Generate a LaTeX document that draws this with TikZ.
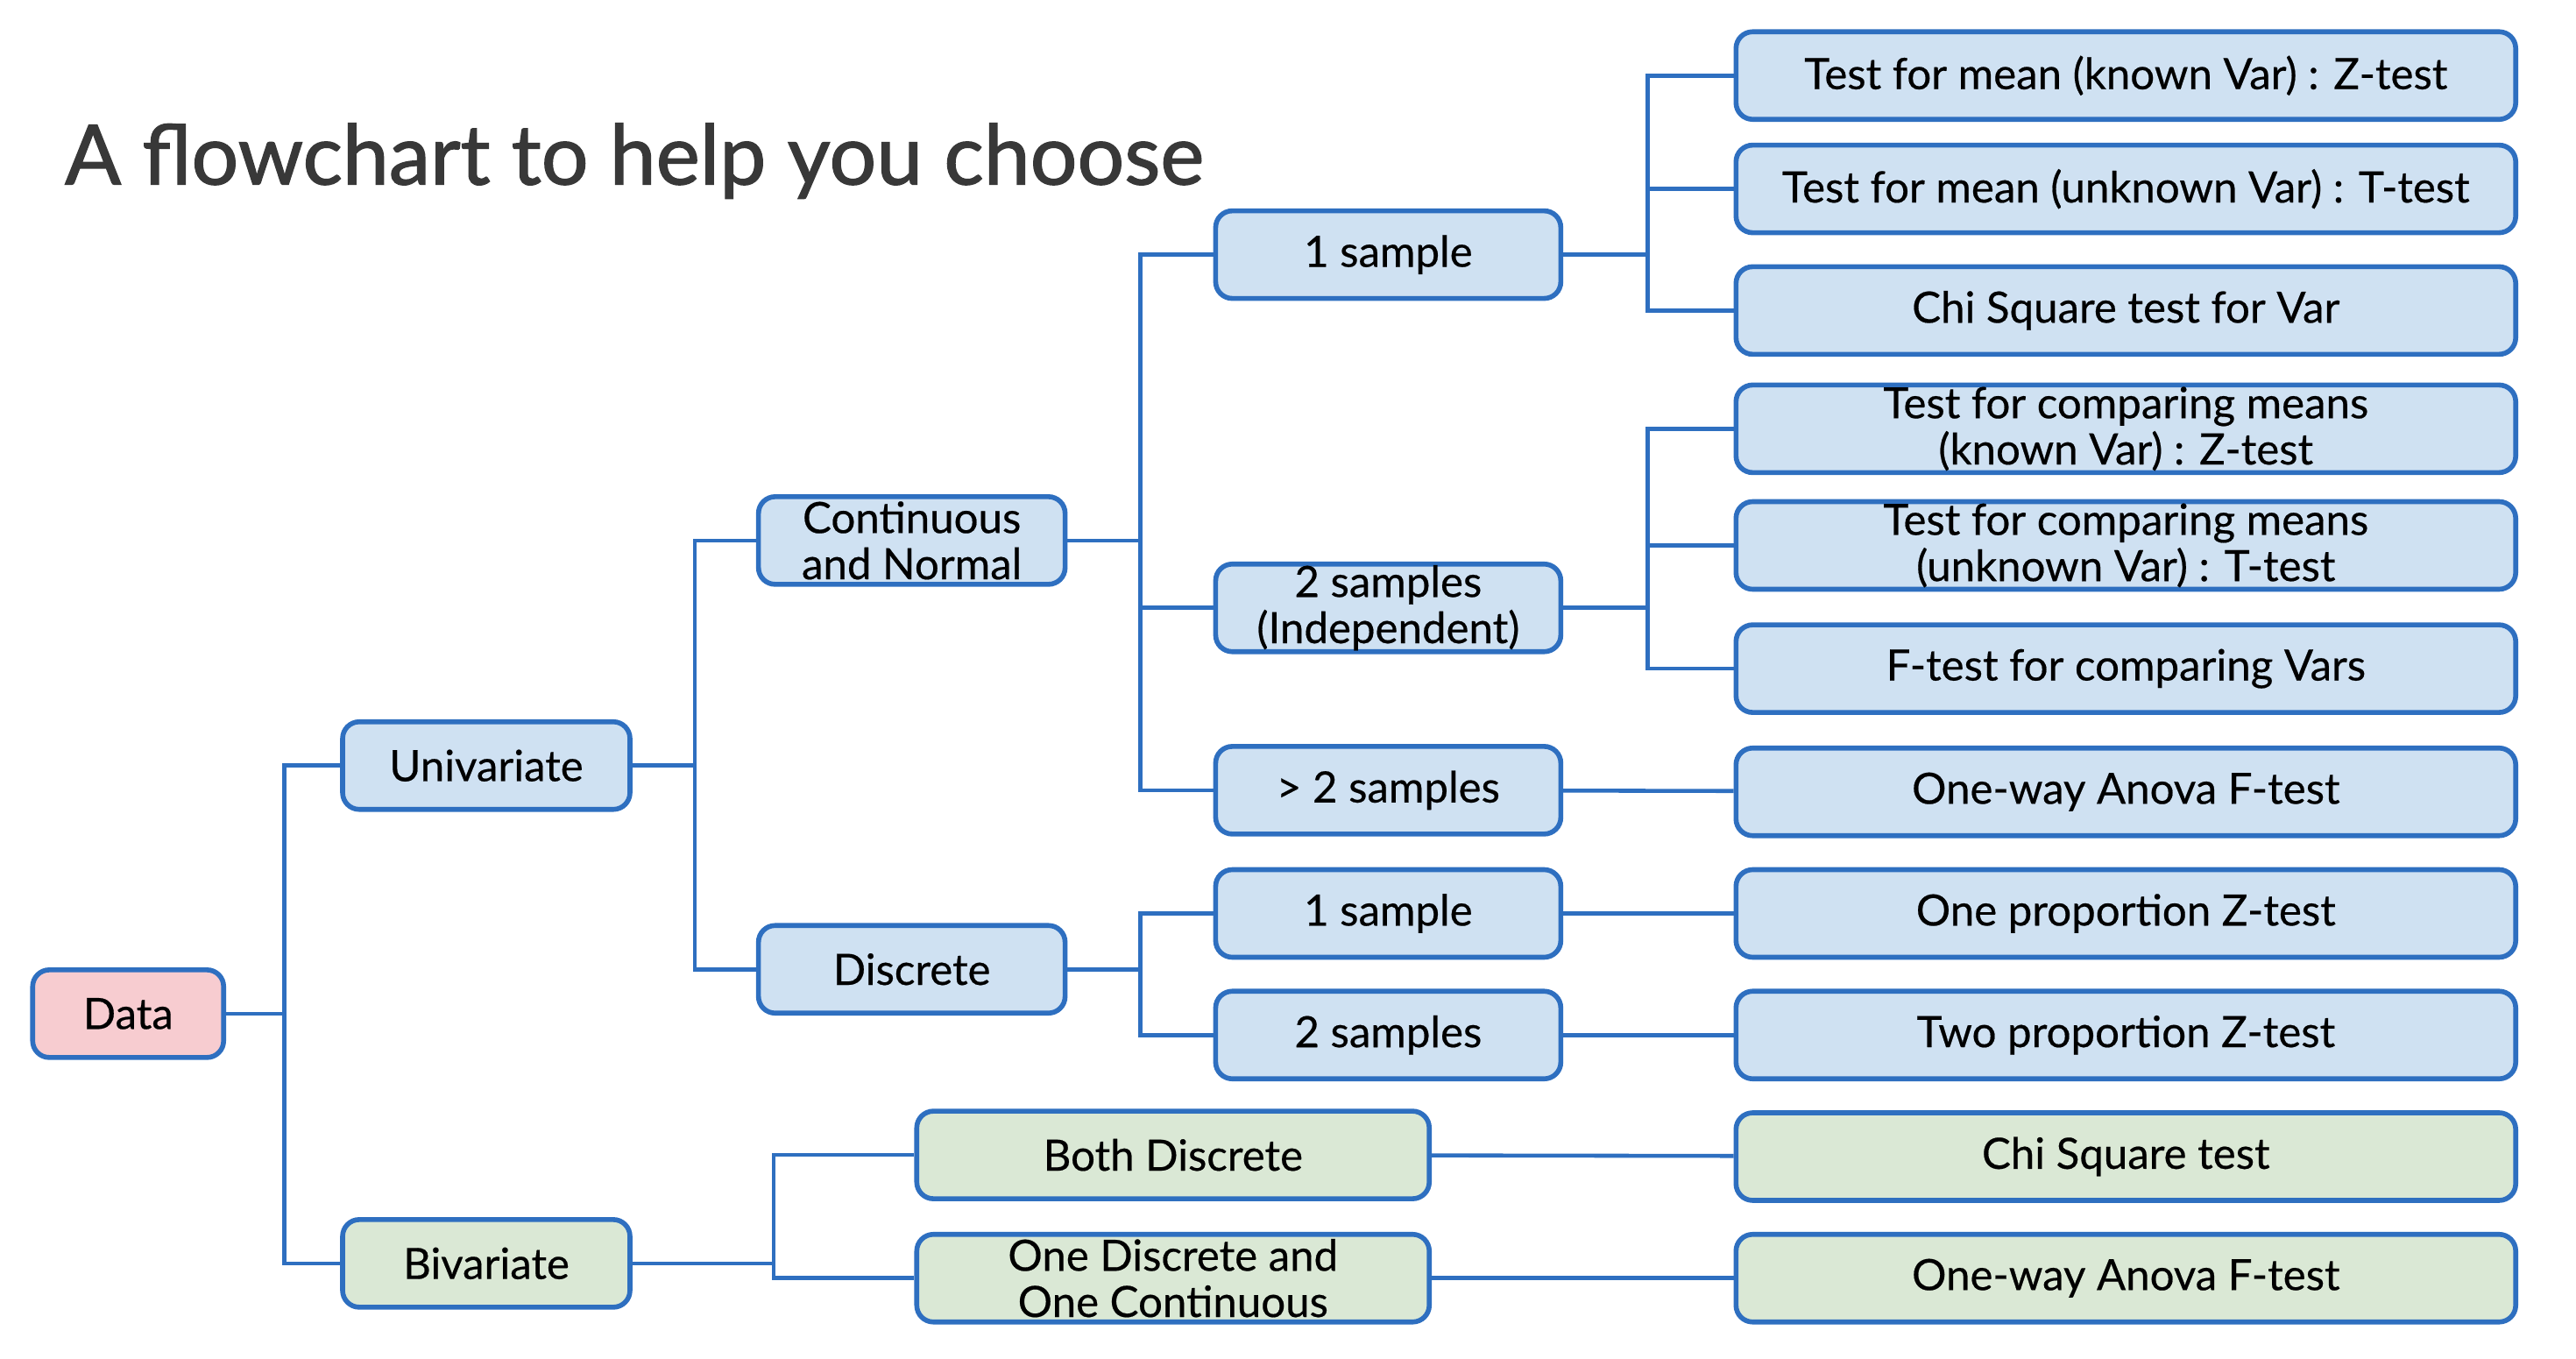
\documentclass[tikz,border=0pt]{standalone}
\usepackage{fontspec}
\setmainfont{Lato}[FakeBold=0.4]
\newfontfamily\titlefont{Lato}[FakeBold=1.4]
\usepackage{tikz}
\pgfdeclarelayer{bg}
\pgfsetlayers{bg,main}
\definecolor{lineblue}{HTML}{2E6FC0}
\definecolor{boxblue}{HTML}{CFE1F2}
\definecolor{boxpink}{HTML}{F7CCD0}
\definecolor{boxgreen}{HTML}{DAE8D5}
\definecolor{titlegray}{HTML}{383838}
\tikzset{
    every node/.style={rectangle, rounded corners=0.19cm, draw=lineblue, line width=1.6pt,
        fill=boxblue, align=center, inner xsep=2pt, inner ysep=0pt, minimum height=1cm,
        font=\fontsize{14}{15}\selectfont}
}
\tikzset{link/.style={draw=lineblue, line width=1.3pt}}

\begin{document}
\begin{tikzpicture}[x=0.01875cm, y=-0.01875cm]
        \useasboundingbox (0,0) rectangle (1568,827);
        \node (title) [draw=none, fill=none, inner sep=0pt, anchor=west, text=titlegray,
                font=\titlefont\fontsize{27}{32}\selectfont] at (38,98) {A flowchart to help you choose};
        \node (data) [fill=boxpink, minimum width=2.18cm] at (78,617) {Data};
        \node (uni) [minimum width=3.28cm] at (296,466) {Univariate};
        \node (biv) [fill=boxgreen, minimum width=3.28cm] at (296,769) {Bivariate};
        \node (cont) [minimum width=3.5cm] at (555,329) {Continuous\\and Normal};
        \node (disc) [minimum width=3.5cm] at (555,590) {Discrete};
        \node (c1) [minimum width=3.94cm] at (845,155) {1 sample};
        \node (c2) [minimum width=3.94cm] at (845,370) {2 samples\\(Independent)};
        \node (c3) [minimum width=3.94cm] at (845,481) {> 2 samples};
        \node (d1) [minimum width=3.94cm] at (845,556) {1 sample};
        \node (d2) [minimum width=3.94cm] at (845,630) {2 samples};
        \node (b1) [fill=boxgreen, minimum width=5.85cm] at (714,703) {Both Discrete};
        \node (b2) [fill=boxgreen, minimum width=5.85cm] at (714,778) {One Discrete and\\One Continuous};
        \node (t1) [minimum width=8.9cm] at (1294,46) {Test for mean (known Var) : Z-test};
        \node (t2) [minimum width=8.9cm] at (1294,115) {Test for mean (unknown Var) : T-test};
        \node (t3) [minimum width=8.9cm] at (1294,189) {Chi Square test for Var};
        \node (t4) [minimum width=8.9cm] at (1294,261) {Test for comparing means\\(known Var) : Z-test};
        \node (t5) [minimum width=8.9cm] at (1294,332) {Test for comparing means\\(unknown Var) : T-test};
        \node (t6) [minimum width=8.9cm] at (1294,407) {F-test for comparing Vars};
        \node (t7) [minimum width=8.9cm] at (1294,482) {One-way Anova F-test};
        \node (t8) [minimum width=8.9cm] at (1294,556) {One proportion Z-test};
        \node (t9) [minimum width=8.9cm] at (1294,630) {Two proportion Z-test};
        \node (t10) [fill=boxgreen, minimum width=8.9cm] at (1294,704) {Chi Square test};
        \node (t11) [fill=boxgreen, minimum width=8.9cm] at (1294,778) {One-way Anova F-test};
        \coordinate (j0) at (173,617);
        \coordinate (j1) at (423,466);
        \coordinate (j2) at (694,329);
        \coordinate (j3) at (694,590);
        \coordinate (j4) at (471,769);
        \coordinate (j5) at (1003,155);
        \coordinate (j6) at (1003,370);
        \begin{pgfonlayer}{bg}
                \draw [link] (data) -- (j0);
                \draw [link] (j0) |- (uni.west);
                \draw [link] (j0) |- (biv.west);
                \draw [link] (uni) -- (j1);
                \draw [link] (j1) |- (cont.west);
                \draw [link] (j1) |- (disc.west);
                \draw [link] (cont) -- (j2);
                \draw [link] (j2) |- (c1.west);
                \draw [link] (j2) |- (c2.west);
                \draw [link] (j2) |- (c3.west);
                \draw [link] (disc) -- (j3);
                \draw [link] (j3) |- (d1.west);
                \draw [link] (j3) |- (d2.west);
                \draw [link] (biv) -- (j4);
                \draw [link] (j4) |- (b1.west);
                \draw [link] (j4) |- (b2.west);
                \draw [link] (c1) -- (j5);
                \draw [link] (j5) |- (t1.west);
                \draw [link] (j5) |- (t2.west);
                \draw [link] (j5) |- (t3.west);
                \draw [link] (c2) -- (j6);
                \draw [link] (j6) |- (t4.west);
                \draw [link] (j6) |- (t5.west);
                \draw [link] (j6) |- (t6.west);
                \draw [link] (c3) -- (t7);
                \draw [link] (d1) -- (t8);
                \draw [link] (d2) -- (t9);
                \draw [link] (b1) -- (t10);
                \draw [link] (b2) -- (t11);
        \end{pgfonlayer}
\end{tikzpicture}
\end{document}
